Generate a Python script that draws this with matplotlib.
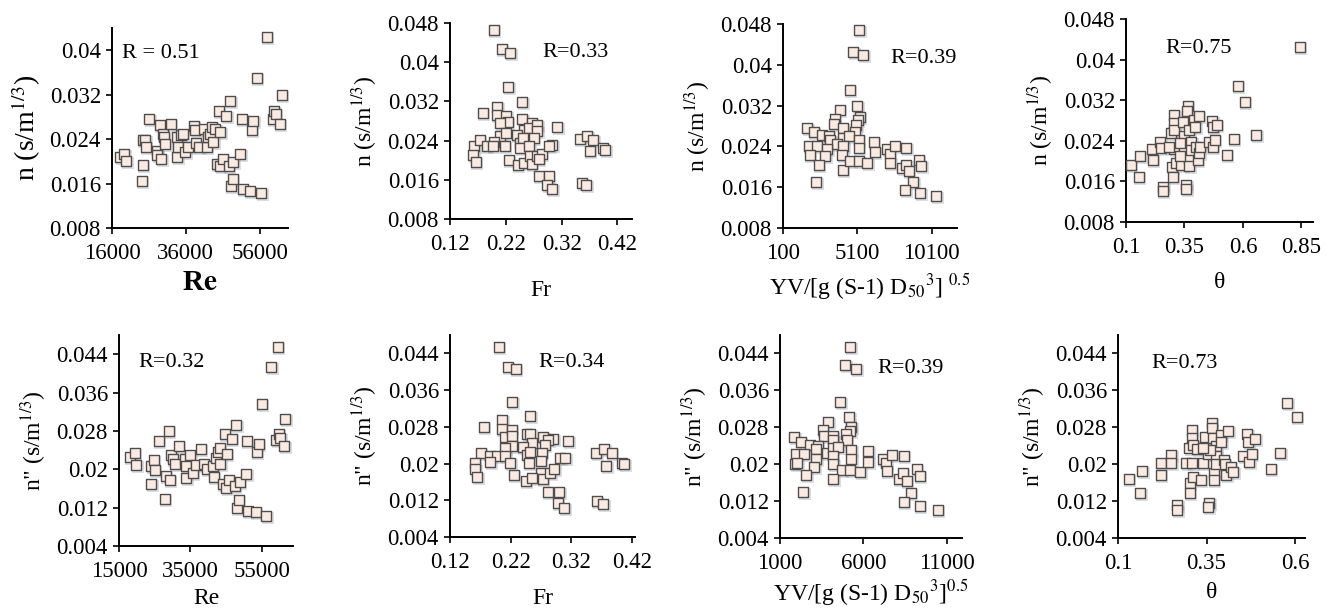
import matplotlib
matplotlib.use("Agg")
import matplotlib.pyplot as plt
from matplotlib import transforms

plt.rcParams['font.family'] = ['Liberation Serif', 'DejaVu Serif']
plt.rcParams['mathtext.fontset'] = 'stix'

# ---------------- data ----------------
# Panel 1: Re vs n
re_top = [18250, 19300, 19900, 24100, 24300, 24400, 25000, 25200, 26100, 28200, 28300, 28900,
          29400, 29800, 30000, 30400, 31900, 33600, 33700, 34000, 34700, 35200, 35800, 36700,
          38100, 38500, 38800, 39700, 40800, 41700, 42100, 42600, 43100, 43500, 44000, 44400,
          44900, 45300, 45300, 46000, 46900, 47600, 48000, 48200, 48700, 48900, 50700, 51200,
          51500, 53400, 53900, 54300, 55200, 56500, 57900, 59500, 59900, 60400, 61500, 62000]
n_re = [0.0207, 0.0214, 0.0201, 0.0165, 0.0193, 0.0239, 0.0238, 0.0225, 0.0276, 0.0218, 0.0211, 0.0265,
        0.0204, 0.0250, 0.0243, 0.0232, 0.0267, 0.0243, 0.0208, 0.0226, 0.0247, 0.0250, 0.0217, 0.0226,
        0.0263, 0.0257, 0.0233, 0.0226, 0.0259, 0.0226, 0.0244, 0.0250, 0.0262, 0.0235, 0.0259, 0.0195,
        0.0291, 0.0252, 0.0192, 0.0204, 0.0282, 0.0192, 0.0309, 0.0155, 0.0168, 0.0199, 0.0214, 0.0277,
        0.0150, 0.0147, 0.0257, 0.0272, 0.0350, 0.0143, 0.0424, 0.0277, 0.0290, 0.0285, 0.0268, 0.0319]

# Panel 2: Fr vs n
fr_top = [0.198, 0.213, 0.228, 0.224, 0.179, 0.205, 0.204, 0.221, 0.223, 0.249, 0.249, 0.210,
          0.210, 0.221, 0.253, 0.266, 0.262, 0.276, 0.276, 0.312, 0.240, 0.245, 0.251, 0.270,
          0.163, 0.173, 0.186, 0.198, 0.197, 0.218, 0.162, 0.166, 0.225, 0.241, 0.252, 0.246,
          0.262, 0.264, 0.266, 0.276, 0.284, 0.279, 0.279, 0.297, 0.294, 0.303, 0.303, 0.298,
          0.352, 0.366, 0.377, 0.370, 0.394, 0.398, 0.357, 0.364]
n_fr = [0.0465, 0.0426, 0.0419, 0.0349, 0.0296, 0.0309, 0.0292, 0.0290, 0.0277, 0.0319, 0.0284, 0.0276,
        0.0250, 0.0255, 0.0262, 0.0276, 0.0266, 0.0272, 0.0259, 0.0267, 0.0252, 0.0235, 0.0245, 0.0245,
        0.0228, 0.0242, 0.0228, 0.0238, 0.0228, 0.0228, 0.0211, 0.0196, 0.0201, 0.0190, 0.0194, 0.0225,
        0.0228, 0.0208, 0.0193, 0.0208, 0.0213, 0.0202, 0.0167, 0.0168, 0.0150, 0.0142, 0.0232, 0.0228,
        0.0243, 0.0250, 0.0242, 0.0218, 0.0225, 0.0221, 0.0153, 0.0149]

# Panel 3: YV/[g(S-1)D50^3]^0.5 vs n
yv_top = [5212, 4808, 5481, 4584, 5078, 3912, 5257, 5122, 3575, 3553, 5033, 4965,
          4136, 1714, 2163, 2723, 3172, 3284, 4136, 4517, 5190, 5190, 6199, 6266,
          3732, 1826, 2387, 1894, 3060, 4136, 4069, 2948, 2499, 4113, 4629, 5212,
          5750, 2342, 7096, 7275, 7320, 7656, 8396, 8105, 8396, 8553, 8844, 9226,
          9383, 8329, 9338, 10414]
n_yv = [0.0468, 0.0426, 0.0420, 0.0351, 0.0320, 0.0311, 0.0298, 0.0291, 0.0294, 0.0283, 0.0281, 0.0268,
        0.0276, 0.0276, 0.0268, 0.0263, 0.0261, 0.0253, 0.0256, 0.0260, 0.0253, 0.0237, 0.0248, 0.0230,
        0.0245, 0.0240, 0.0241, 0.0224, 0.0234, 0.0240, 0.0224, 0.0221, 0.0203, 0.0194, 0.0211, 0.0211,
        0.0207, 0.0170, 0.0234, 0.0226, 0.0207, 0.0240, 0.0237, 0.0198, 0.0204, 0.0191, 0.0170, 0.0214,
        0.0201, 0.0154, 0.0149, 0.0142]

# Panel 4: theta vs n
th_top = [0.843, 0.579, 0.607, 0.657, 0.560, 0.531, 0.121, 0.160, 0.154, 0.214, 0.211, 0.247,
          0.250, 0.260, 0.257, 0.297, 0.300, 0.293, 0.307, 0.307, 0.307, 0.307, 0.314, 0.336,
          0.343, 0.347, 0.350, 0.357, 0.357, 0.364, 0.360, 0.371, 0.369, 0.371, 0.379, 0.379,
          0.389, 0.396, 0.411, 0.400, 0.407, 0.414, 0.417, 0.457, 0.469, 0.471, 0.471, 0.479,
          0.489, 0.329, 0.286, 0.331]
n_th = [0.0424, 0.0348, 0.0317, 0.0252, 0.0243, 0.0213, 0.0193, 0.0210, 0.0168, 0.0202, 0.0224, 0.0238,
        0.0226, 0.0148, 0.0141, 0.0189, 0.0168, 0.0256, 0.0291, 0.0275, 0.0261, 0.0223, 0.0197, 0.0192,
        0.0278, 0.0250, 0.0228, 0.0153, 0.0146, 0.0308, 0.0298, 0.0261, 0.0205, 0.0191, 0.0238, 0.0222,
        0.0281, 0.0268, 0.0289, 0.0228, 0.0202, 0.0215, 0.0228, 0.0238, 0.0280, 0.0268, 0.0228, 0.0242,
        0.0271, 0.0235, 0.0228, 0.0210]

# Panel 5: Re vs n''
re_bot = [17980, 19380, 19850, 24040, 24040, 24690, 24970, 26180, 27770, 28050, 28980, 29170,
          29630, 30100, 30560, 31780, 33360, 33640, 33830, 34940, 35690, 36620, 37830, 38670,
          39600, 41280, 41470, 42030, 42680, 43150, 43330, 44080, 44540, 45010, 45200, 45760,
          46590, 47340, 47810, 47990, 48550, 48740, 50600, 50790, 51070, 53210, 53590, 54140,
          54980, 56190, 57590, 59460, 58990, 59740, 60110, 61320, 61600]
n2_re = [0.0225, 0.0233, 0.0209, 0.0206, 0.0169, 0.0219, 0.0199, 0.0258, 0.0138, 0.0187, 0.0279, 0.0178,
         0.0230, 0.0221, 0.0212, 0.0249, 0.0221, 0.0206, 0.0181, 0.0230, 0.0193, 0.0209, 0.0242, 0.0211,
         0.0201, 0.0207, 0.0183, 0.0223, 0.0237, 0.0244, 0.0212, 0.0169, 0.0273, 0.0160, 0.0232, 0.0178,
         0.0263, 0.0166, 0.0292, 0.0119, 0.0136, 0.0174, 0.0190, 0.0259, 0.0113, 0.0110, 0.0235, 0.0253,
         0.0336, 0.0103, 0.0413, 0.0454, 0.0261, 0.0273, 0.0266, 0.0249, 0.0304]

# Panel 6: Fr vs n''
fr_bot = [0.200, 0.215, 0.228, 0.223, 0.252, 0.176, 0.206, 0.205, 0.211, 0.222, 0.222, 0.247,
          0.252, 0.274, 0.290, 0.315, 0.282, 0.255, 0.276, 0.240, 0.222, 0.211, 0.171, 0.186,
          0.197, 0.211, 0.219, 0.186, 0.161, 0.162, 0.165, 0.247, 0.250, 0.252, 0.271, 0.270,
          0.270, 0.273, 0.285, 0.292, 0.302, 0.310, 0.225, 0.245, 0.256, 0.281, 0.300, 0.298,
          0.308, 0.361, 0.374, 0.387, 0.378, 0.403, 0.407, 0.362, 0.373]
n2_fr = [0.0453, 0.0411, 0.0405, 0.0335, 0.0303, 0.0280, 0.0294, 0.0276, 0.0258, 0.0274, 0.0259, 0.0265,
         0.0264, 0.0258, 0.0254, 0.0249, 0.0252, 0.0244, 0.0240, 0.0236, 0.0238, 0.0233, 0.0222, 0.0216,
         0.0217, 0.0216, 0.0202, 0.0204, 0.0202, 0.0188, 0.0170, 0.0218, 0.0202, 0.0226, 0.0224, 0.0205,
         0.0179, 0.0166, 0.0179, 0.0189, 0.0211, 0.0211, 0.0175, 0.0162, 0.0169, 0.0137, 0.0139, 0.0115,
         0.0103, 0.0223, 0.0232, 0.0222, 0.0195, 0.0202, 0.0200, 0.0119, 0.0111]

# Panel 7: YV/[g(S-1)D50^3]^0.5 vs n''
yv_bot = [5200, 4900, 5560, 4600, 5160, 5260, 5200, 4960, 5000, 3900, 3560, 3640,
          4160, 4200, 1840, 2240, 2800, 3260, 3160, 3800, 4160, 4500, 1960, 2440,
          1900, 2040, 3160, 3040, 4160, 4200, 5260, 5260, 4700, 5200, 5800, 4200,
          2560, 2400, 6300, 6300, 7160, 7360, 7400, 7700, 8400, 8100, 8360, 8600,
          8840, 8400, 9200, 9360, 9360, 10440]
n2_yv = [0.0454, 0.0414, 0.0407, 0.0334, 0.0302, 0.0280, 0.0271, 0.0266, 0.0253, 0.0291, 0.0274, 0.0262,
         0.0261, 0.0252, 0.0258, 0.0248, 0.0242, 0.0240, 0.0232, 0.0224, 0.0235, 0.0237, 0.0221, 0.0221,
         0.0201, 0.0203, 0.0211, 0.0194, 0.0217, 0.0201, 0.0230, 0.0212, 0.0187, 0.0187, 0.0182, 0.0168,
         0.0177, 0.0139, 0.0228, 0.0205, 0.0211, 0.0203, 0.0185, 0.0219, 0.0217, 0.0168, 0.0180, 0.0163,
         0.0138, 0.0118, 0.0190, 0.0175, 0.0110, 0.0101]

# Panel 8: theta vs n''
th_bot = [0.131, 0.163, 0.168, 0.220, 0.220, 0.251, 0.251, 0.267, 0.267, 0.293, 0.301, 0.303,
          0.303, 0.308, 0.308, 0.312, 0.310, 0.313, 0.324, 0.333, 0.339, 0.345, 0.355, 0.358,
          0.355, 0.364, 0.364, 0.367, 0.371, 0.371, 0.378, 0.378, 0.378, 0.390, 0.392, 0.399,
          0.402, 0.405, 0.411, 0.418, 0.425, 0.454, 0.465, 0.468, 0.471, 0.477, 0.487, 0.531,
          0.558, 0.578, 0.605, 0.359, 0.341]
n2_th = [0.0168, 0.0137, 0.0186, 0.0202, 0.0177, 0.0220, 0.0202, 0.0112, 0.0101, 0.0202, 0.0235, 0.0160,
         0.0137, 0.0274, 0.0256, 0.0242, 0.0202, 0.0173, 0.0232, 0.0166, 0.0202, 0.0258, 0.0222, 0.0116,
         0.0108, 0.0290, 0.0278, 0.0256, 0.0180, 0.0165, 0.0240, 0.0218, 0.0200, 0.0263, 0.0249, 0.0209,
         0.0201, 0.0177, 0.0273, 0.0193, 0.0182, 0.0218, 0.0266, 0.0249, 0.0204, 0.0222, 0.0254, 0.0189,
         0.0224, 0.0333, 0.0302, 0.0231, 0.0235]

r_labels = ["R = 0.51", "R=0.33", "R=0.39", "R=0.75", "R=0.32", "R=0.34", "R=0.39", "R=0.73"]

x_ticks = [[16000, 36000, 56000], [0.12, 0.22, 0.32, 0.42], [100, 5100, 10100], [0.1, 0.35, 0.6, 0.85],
           [15000, 35000, 55000], [0.12, 0.22, 0.32, 0.42], [1000, 6000, 11000], [0.1, 0.35, 0.6]]
y_ticks_top = [0.008, 0.016, 0.024, 0.032, 0.04, 0.048]
y_ticks_bot = [0.004, 0.012, 0.02, 0.028, 0.036, 0.044]

x_labels = ["Re", "Fr", r"YV/[g (S-1) D$_{50}$$^{3}$] $^{0.5}$", "θ",
            "Re", "Fr", r"YV/[g (S-1) D$_{50}$$^{3}$]$^{0.5}$", "θ"]
y_label_top = r"n (s/m$^{1/3}$)"
y_label_bot = r'n" (s/m$^{1/3}$)'

# ---------------- layout ----------------
W, H = 1327, 611
fig = plt.figure(figsize=(W / 100, H / 100), dpi=100)

# axes rectangles in pixels: left, right, top, bottom
rects = [(112, 288, 28, 228), (450, 632, 23, 219), (783, 957, 24, 228), (1126, 1313, 19, 222),
         (119, 293, 335, 546), (450, 635, 335, 537), (780, 962, 335, 538), (1118, 1305, 335, 538)]
xlims = [(16000, 63700), (0.12, 0.446), (100, 11800), (0.1, 0.9),
         (15000, 63700), (0.12, 0.425), (1000, 11900), (0.1, 0.628)]
ylims = [(0.008, 0.044), (0.008, 0.048), (0.008, 0.048), (0.008, 0.048),
         (0.004, 0.048), (0.004, 0.048), (0.004, 0.048), (0.004, 0.048)]
r_pos = [(0.057, 0.875), (0.51, 0.847), (0.615, 0.833), (0.209, 0.857),
         (0.11, 0.872), (0.476, 0.866), (0.533, 0.837), (0.18, 0.862)]
# x-label vertical centres in pixels
xl_y = [283, 290, 287, 283, 598, 598, 593, 592]

xs = [re_top, fr_top, yv_top, th_top, re_bot, fr_bot, yv_bot, th_bot]
ys = [n_re, n_fr, n_yv, n_th, n2_re, n2_fr, n2_yv, n2_th]

for i in range(8):
    l, r, t, b = rects[i]
    ax = fig.add_axes([l / W, 1 - b / H, (r - l) / W, (b - t) / H])
    # shadow
    sh = transforms.offset_copy(ax.transData, fig=fig, x=1.5, y=-2.0, units='dots')
    ax.scatter(xs[i], ys[i], marker='s', s=72, color='#aeb6c0', alpha=0.45,
               linewidths=0, transform=sh, zorder=2, clip_on=False)
    ax.scatter(xs[i], ys[i], marker='s', s=42, facecolor='#fbeae0', edgecolor='#4d4d4d',
               linewidths=1.0, zorder=3, clip_on=False)
    ax.set_xlim(*xlims[i])
    ax.set_ylim(*ylims[i])
    yt = y_ticks_top if i < 4 else y_ticks_bot
    if i == 0:
        yt = yt[:-1]
    ax.set_yticks(yt)
    ax.set_yticklabels([f"{v:g}" for v in yt])
    ax.set_xticks(x_ticks[i])
    ax.set_xticklabels([f"{v:g}" for v in x_ticks[i]])
    for s in ['top', 'right']:
        ax.spines[s].set_visible(False)
    for s in ['left', 'bottom']:
        ax.spines[s].set_linewidth(1.4)
        ax.spines[s].set_color('black')
    ax.tick_params(axis='both', direction='out', length=4, width=1.2, labelsize=16.5,
                   colors='black')
    ax.tick_params(axis='x', pad=7)
    ax.tick_params(axis='y', pad=4)
    ax.set_facecolor('none')
    ax.text(r_pos[i][0], r_pos[i][1], r_labels[i], transform=ax.transAxes,
            ha='left', va='center', fontsize=16)
    cx = (l + r) / 2 / W
    cy = 1 - xl_y[i] / H
    if i == 0:
        ax.set_ylabel(y_label_top, fontsize=20, labelpad=5)
        fig.text(cx, cy, "R$\\mathbf{e}$", fontsize=21, fontweight='bold', ha='center', va='center')
    else:
        ax.set_ylabel(y_label_top if i < 4 else y_label_bot, fontsize=17, labelpad=5)
        fig.text(cx, cy, x_labels[i], fontsize=17, ha='center', va='center')

fig.savefig("out.png", dpi=100)
